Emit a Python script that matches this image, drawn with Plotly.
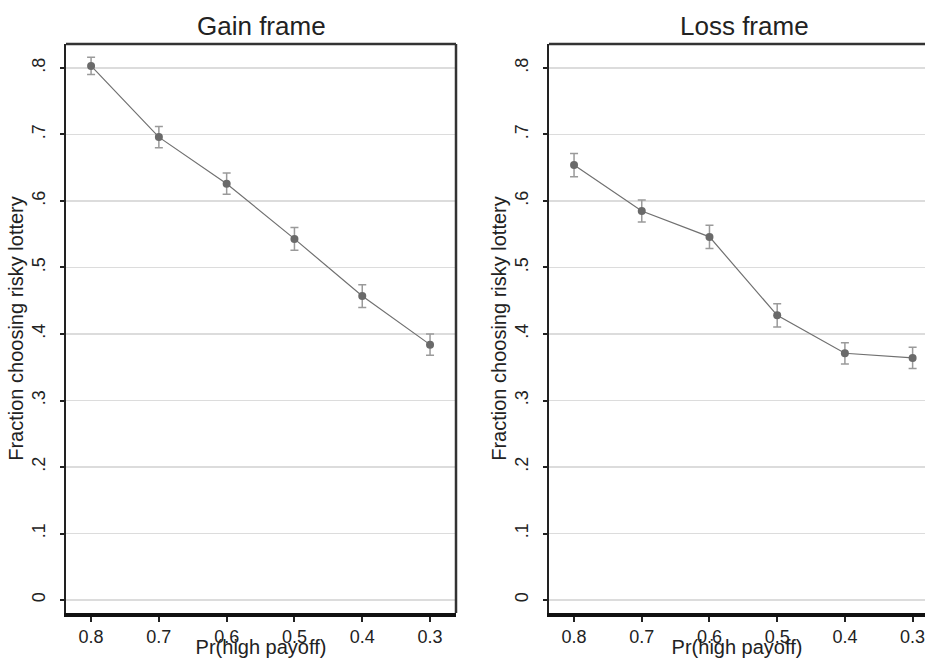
import plotly.graph_objects as go

# ---- data ----
p_high = [0.8, 0.7, 0.6, 0.5, 0.4, 0.3]
gain_frac = [0.803, 0.696, 0.626, 0.543, 0.457, 0.384]
gain_err = [0.013, 0.016, 0.016, 0.017, 0.017, 0.016]
loss_frac = [0.654, 0.585, 0.546, 0.428, 0.371, 0.364]
loss_err = [0.0175, 0.0165, 0.0175, 0.0175, 0.016, 0.016]
x_ticks = [0.8, 0.7, 0.6, 0.5, 0.4, 0.3]
x_ticklabels = ["0.8", "0.7", "0.6", "0.5", "0.4", "0.3"]
y_ticks = [0, 0.1, 0.2, 0.3, 0.4, 0.5, 0.6, 0.7, 0.8]
y_ticklabels = ["0", ".1", ".2", ".3", ".4", ".5", ".6", ".7", ".8"]
panel_titles = ["Gain frame", "Loss frame"]
x_title = "Pr(high payoff)"
y_title = "Fraction choosing risky lottery"

W, H = 925, 658
FONT = "Arial, Liberation Sans, sans-serif"

fig = go.Figure()

series = [(gain_frac, gain_err, "x", "y"), (loss_frac, loss_err, "x2", "y2")]
for vals, errs, xa, ya in series:
    fig.add_trace(go.Scatter(
        x=p_high, y=vals, xaxis=xa, yaxis=ya, mode="lines+markers",
        line=dict(color="#707070", width=1.2),
        marker=dict(symbol="circle", size=8, color="#6a6a6a"),
        error_y=dict(type="data", array=errs, visible=True,
                     color="#9a9a9a", thickness=1.5, width=4),
        showlegend=False, hoverinfo="skip",
        cliponaxis=False,
    ))

y_dom = [1 - 613 / H, 1 - 44 / H]
x1_dom = [66 / W, 456 / W]
x2_dom = [549 / W, 1.0]

common_x = dict(
    tickmode="array", tickvals=x_ticks, ticktext=x_ticklabels,
    ticks="outside", ticklen=5, tickwidth=2, tickcolor="#222",
    showgrid=False, zeroline=False,
    showline=True, linecolor="#111", linewidth=3.5,
    tickfont=dict(family=FONT, size=18, color="#222"),
    ticklabelstandoff=0,
    ticklabeloverflow="allow",
    automargin=False,
    title=dict(text=x_title, font=dict(family=FONT, size=20, color="#222"), standoff=0),
)
common_y = dict(
    tickmode="array", tickvals=y_ticks, ticktext=y_ticklabels,
    range=[-0.0195, 0.836],
    ticks="outside", ticklen=4, tickwidth=2, tickcolor="#222",
    showgrid=True, gridcolor="#dcdcdc", gridwidth=1.5,
    zeroline=False,
    showline=True, linecolor="#222", linewidth=2.5,
    tickangle=-90,
    tickfont=dict(family=FONT, size=18, color="#222"),
    ticklabelstandoff=7,
    automargin=False,
    title=dict(text=y_title, font=dict(family=FONT, size=20, color="#222"), standoff=1),
)

fig.update_layout(
    width=W, height=H,
    margin=dict(l=0, r=0, t=0, b=0, autoexpand=False),
    paper_bgcolor="white", plot_bgcolor="white",
    xaxis=dict(common_x, domain=x1_dom, range=[0.837, 0.2617], anchor="y"),
    yaxis=dict(common_y, domain=y_dom, anchor="x"),
    xaxis2=dict(common_x, domain=x2_dom, range=[0.837, 0.2817], anchor="y2"),
    yaxis2=dict(common_y, domain=y_dom, anchor="x2"),
)

# frame top/right edges
shapes = []
for xr, yr, right in [("x domain", "y domain", True), ("x2 domain", "y2 domain", False)]:
    shapes.append(dict(type="line", xref=xr, yref=yr, x0=0, x1=1, y0=1, y1=1,
                       line=dict(color="#333", width=2.5)))
    if right:
        shapes.append(dict(type="line", xref=xr, yref=yr, x0=1, x1=1, y0=0, y1=1,
                           line=dict(color="#333", width=2.5)))
fig.update_layout(shapes=shapes)

annotations = []
for xr, t in zip(["x domain", "x2 domain"], panel_titles):
    annotations.append(dict(text=t, xref=xr, yref="paper", x=0.5, y=1 - 26 / H,
                            xanchor="center", yanchor="middle", showarrow=False,
                            font=dict(family=FONT, size=26, color="#222")))
# second panel title is centered on full (uncut) panel width
annotations[1]["x"] = 0.5 * 390 / (925 - 549)
fig.update_layout(annotations=annotations)

fig.write_html("out.html",
               config={"displayModeBar": False, "staticPlot": True},
               post_script="document.body.style.margin='0';document.body.style.overflow='hidden';")
